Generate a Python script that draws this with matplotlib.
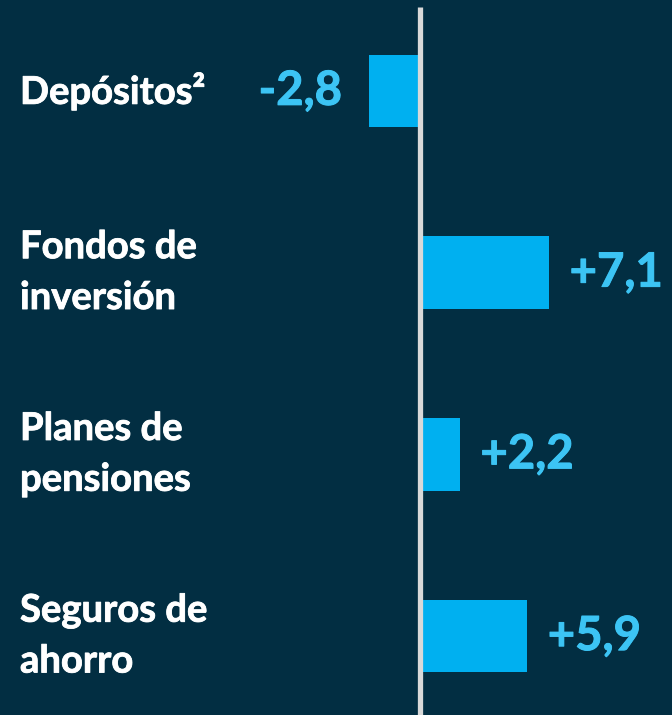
import matplotlib
matplotlib.use("Agg")
import matplotlib.pyplot as plt
import matplotlib.patheffects as pe
from matplotlib.transforms import blended_transform_factory

categories = ["Depósitos²", "Fondos de\ninversión", "Planes de\npensiones", "Seguros de\nahorro"]
values = [-2.8, 7.1, 2.2, 5.9]
value_labels = ["-2,8", "+7,1", "+2,2", "+5,9"]

bg = "#022E42"
bar_col = "#00B0F0"
txt_col = "#3CC4F4"

plt.rcParams['font.family'] = ['Lato', 'DejaVu Sans']

fig = plt.figure(figsize=(6.72, 7.15), dpi=100, facecolor=bg)
ax = fig.add_axes([0, 0, 1, 1], facecolor=bg)

ypos = list(range(len(values)))
ax.barh(ypos, values, height=0.4, color=bar_col, zorder=2)

# axis line at zero
ax.plot([0, 0], [-0.462, 3.5], color="#D9D9D9", lw=3.8, zorder=3, solid_capstyle="butt")

ax.set_xlim(-23.05, 13.87)
ax.set_ylim(3.434, -0.5)
ax.axis("off")

tr = blended_transform_factory(fig.transFigure, ax.transData)
for y, c in zip(ypos, categories):
    ax.text(20 / 672, y, c, transform=tr, ha="left", va="center",
            color="white", fontsize=27.5, fontweight="bold", linespacing=1.6,
            path_effects=[pe.withStroke(linewidth=0.6, foreground="white")])

for y, v, lab in zip(ypos, values, value_labels):
    if v < 0:
        off, ha = (-19, 0), "right"
    else:
        off, ha = (15, 0), "left"
    ax.annotate(lab, (v, y), xytext=off, textcoords="offset points",
                ha=ha, va="center", color=txt_col, fontsize=34, fontweight="bold",
                path_effects=[pe.withStroke(linewidth=0.7, foreground=txt_col)])

fig.savefig("out.png", dpi=100, facecolor=bg)
